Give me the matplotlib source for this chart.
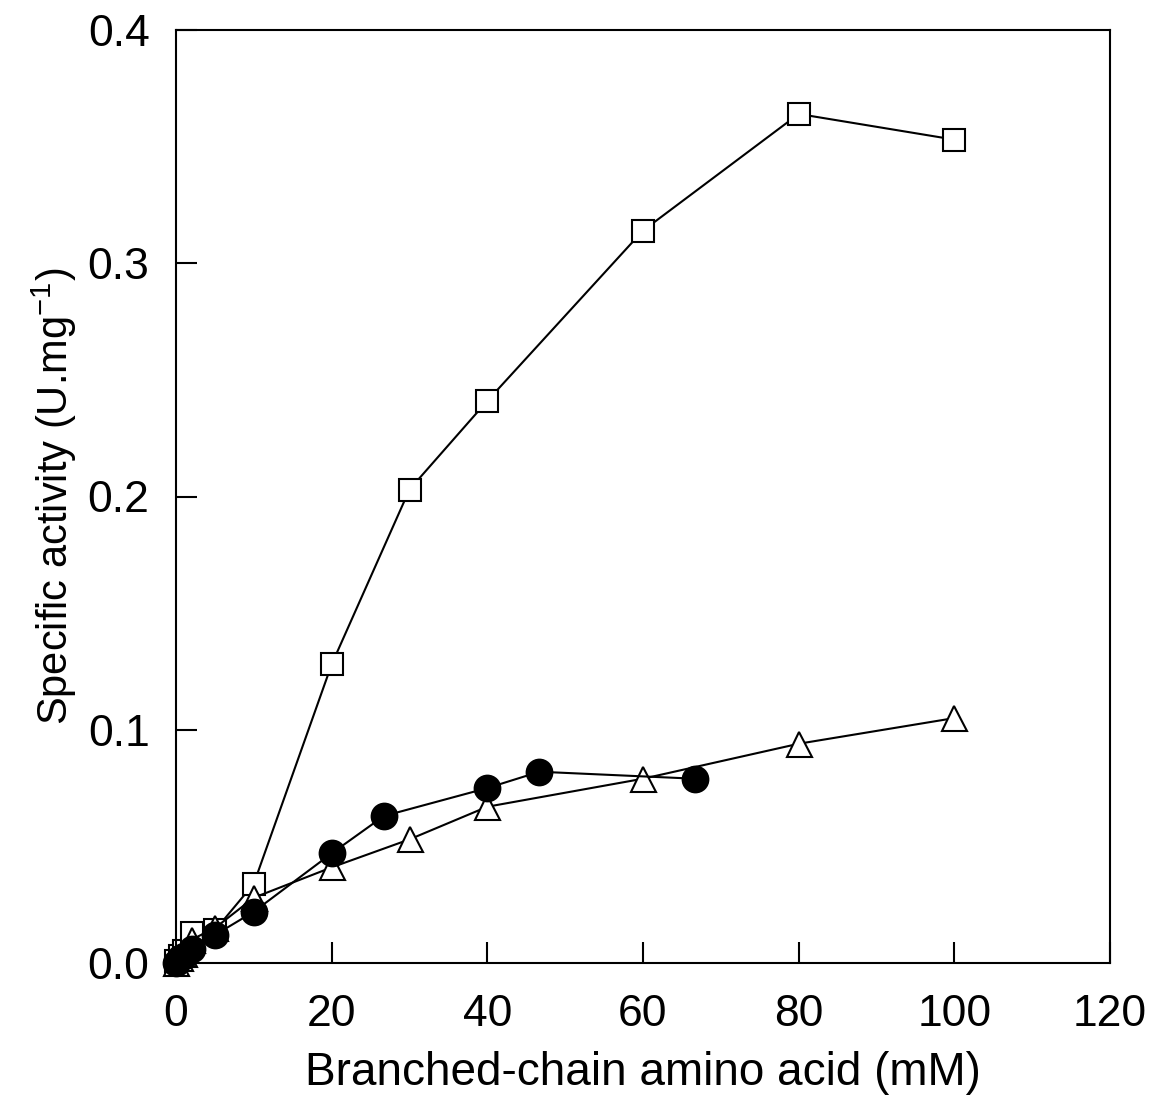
import matplotlib
matplotlib.use("Agg")
import matplotlib.pyplot as plt

plt.rcParams['font.family'] = ['Liberation Sans', 'DejaVu Sans']
plt.rcParams['mathtext.fontset'] = 'custom'
plt.rcParams['mathtext.rm'] = 'Liberation Sans'

sq_x = [0, 0.5, 1, 2, 5, 10, 20, 30, 40, 60, 80, 100]
sq_y = [0.001, 0.003, 0.005, 0.013, 0.014, 0.034, 0.128, 0.203, 0.241, 0.314, 0.364, 0.353]

tri_x = [0, 0.5, 1, 2, 5, 10, 20, 30, 40, 60, 80, 100]
tri_y = [0.0, 0.002, 0.004, 0.010, 0.015, 0.028, 0.041, 0.053, 0.067, 0.079, 0.094, 0.105]

cir_x = [0, 0.5, 1, 2, 5, 10, 20, 26.7, 40, 46.7, 66.7]
cir_y = [0.0, 0.002, 0.003, 0.006, 0.012, 0.022, 0.047, 0.063, 0.075, 0.082, 0.079]

x_ticks = [0, 20, 40, 60, 80, 100, 120]
y_ticks = [0.0, 0.1, 0.2, 0.3, 0.4]

fig = plt.figure(figsize=(11.61, 11.17), dpi=100)
ax = fig.add_axes([176/1161, 1 - 963/1117, (1110-176)/1161, (963-30)/1117])

ax.plot(sq_x, sq_y, color='black', lw=1.5, marker='s', ms=15.5, mfc='white', mec='black', mew=1.5, zorder=2, clip_on=False)
ax.plot(tri_x, tri_y, color='black', lw=1.5, marker='^', ms=18, mfc='white', mec='black', mew=1.5, zorder=3, clip_on=False)
ax.plot(cir_x, cir_y, color='black', lw=1.5, marker='o', ms=18.5, mfc='black', mec='black', mew=1.5, zorder=4, clip_on=False)

ax.set_xlim(0, 120)
ax.set_ylim(0, 0.4)
ax.set_xticks(x_ticks)
ax.set_yticks(y_ticks)
ax.set_xticklabels([str(t) for t in x_ticks])
ax.set_yticklabels([f"{t:.1f}" for t in y_ticks])
ax.tick_params(direction='in', length=15, width=1.5, labelsize=32, top=False, right=False)
ax.tick_params(axis='x', pad=22)
ax.tick_params(axis='y', pad=19)
for s in ax.spines.values():
    s.set_linewidth(1.5)

ax.set_xlabel('Branched-chain amino acid (mM)', fontsize=33, labelpad=12)
ax.set_ylabel('Specific activity (U.mg$^{-1}$)', fontsize=30, labelpad=6)

fig.savefig('out.png', dpi=100)
